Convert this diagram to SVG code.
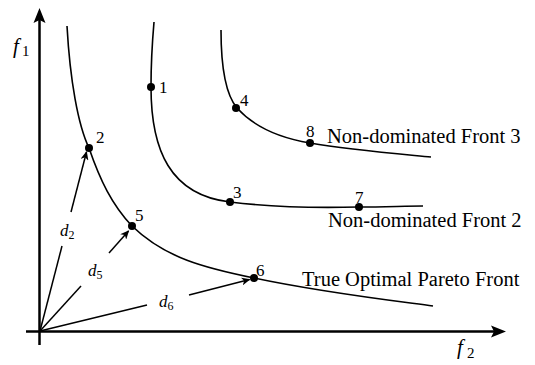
<svg xmlns="http://www.w3.org/2000/svg" width="535" height="365" viewBox="0 0 535 365">
<style>
.ax{stroke:#000;stroke-width:2.5;fill:none}
.cv{stroke:#000;stroke-width:1.6;fill:none}
.ar{stroke:#000;stroke-width:1.5;fill:none;marker-end:url(#ah)}
.ln{stroke:#000;stroke-width:1.5;fill:none}
.pt{fill:#000}
.t{font-family:"Liberation Serif","Times New Roman",serif;fill:#000}
.num{font-size:17px}
.lab{font-size:20.5px}
.it{font-style:italic}
</style>
<defs>
<marker id="ah" markerWidth="10" markerHeight="8" refX="8" refY="4" orient="auto" markerUnits="userSpaceOnUse">
<path d="M0,0 L9,4 L0,8 L2.5,4 Z" fill="#000"/>
</marker>
</defs>
<g id="axes">
<line class="ax" x1="39.5" y1="345" x2="39.5" y2="20"/>
<path d="M39.5,8 L45.5,23 L39.5,20 L33.5,23 Z" fill="#000"/>
<line class="ax" x1="26" y1="331.5" x2="494" y2="331.5"/>
<path d="M506,331.5 L491,325.5 L494,331.5 L491,337.5 Z" fill="#000"/>
<text class="t it" x="13" y="53" font-size="21">f</text><text class="t" x="22" y="56" font-size="15">1</text>
<text class="t it" x="457" y="354" font-size="21">f</text><text class="t" x="467" y="358" font-size="15">2</text>
</g>
<g id="front-pareto">
<path class="cv" d="M67,26 C70,80 78,125 89,148 C100,180 112,205 132,226 C165,258 205,268 254,278 C320,292 380,299 433,306"/>
<text class="t lab" x="302" y="286">True Optimal Pareto Front</text>
</g>
<g id="front-2">
<path class="cv" d="M154,22 C152,45 151,70 151,87 C151,150 170,195 230,202 C270,207 320,208 359,207 C385,207 405,206 423,206"/>
<text class="t lab" x="328" y="227">Non-dominated Front 2</text>
</g>
<g id="front-3">
<path class="cv" d="M221,30 C221,70 226,95 237,108 C255,128 280,138 310,143 C350,150 400,154 431,157"/>
<text class="t lab" x="327" y="143">Non-dominated Front 3</text>
</g>
<g id="p1"><circle class="pt" cx="151" cy="87" r="4"/><text class="t num" x="159" y="93">1</text></g>
<g id="p2"><circle class="pt" cx="89" cy="148" r="4"/><text class="t num" x="96" y="143">2</text></g>
<g id="p3"><circle class="pt" cx="230" cy="202" r="4"/><text class="t num" x="233" y="198">3</text></g>
<g id="p4"><circle class="pt" cx="236" cy="108" r="4"/><text class="t num" x="240" y="106">4</text></g>
<g id="p5"><circle class="pt" cx="132" cy="226" r="4"/><text class="t num" x="135" y="221">5</text></g>
<g id="p6"><circle class="pt" cx="254" cy="278" r="4"/><text class="t num" x="256" y="276">6</text></g>
<g id="p7"><circle class="pt" cx="359" cy="207" r="4"/><text class="t num" x="355" y="203">7</text></g>
<g id="p8"><circle class="pt" cx="310" cy="143" r="4"/><text class="t num" x="306" y="137">8</text></g>
<g id="connectors">
<line class="ln" x1="40" y1="331" x2="62" y2="246"/>
<line class="ar" x1="71" y1="212" x2="86.5" y2="152"/>
<line class="ln" x1="40" y1="331" x2="81" y2="286"/>
<line class="ar" x1="109" y1="253" x2="128.5" y2="231"/>
<line class="ln" x1="40" y1="331" x2="147" y2="305"/>
<line class="ar" x1="189" y1="295" x2="249.5" y2="279.5"/>
<text class="t it" x="60" y="236" font-size="17">d</text><text class="t" x="68.5" y="239" font-size="12">2</text>
<text class="t it" x="88" y="276" font-size="17">d</text><text class="t" x="96.5" y="279" font-size="12">5</text>
<text class="t it" x="159" y="307" font-size="17">d</text><text class="t" x="167.5" y="310" font-size="12">6</text>
</g>
</svg>
